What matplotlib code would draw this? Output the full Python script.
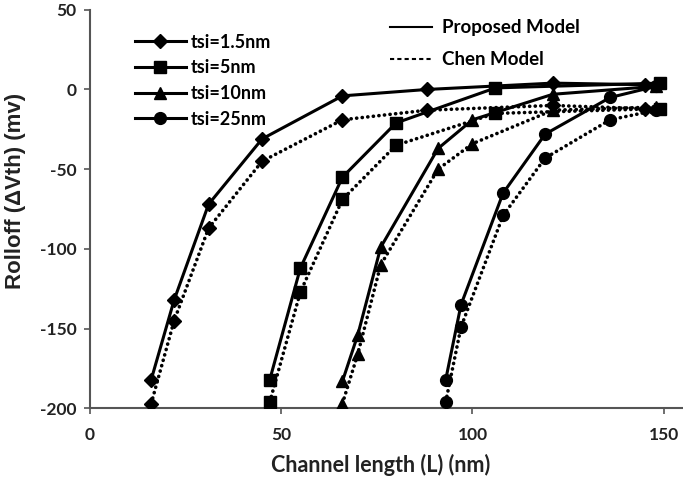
import matplotlib
matplotlib.use("Agg")
import matplotlib.pyplot as plt
from matplotlib.lines import Line2D

plt.rcParams['font.family'] = ['Lato', 'DejaVu Sans']
plt.rcParams['axes.unicode_minus'] = False

# Data
x_15 = [16, 22, 31, 45, 66, 88, 121, 145]
prop_15 = [-182, -132, -72, -31, -4, 0, 4, 3]
chen_15 = [-197, -145, -87, -45, -19, -13, -10, -12]

x_5 = [47, 55, 66, 80, 106, 149]
prop_5 = [-182, -112, -55, -21, 1, 4]
chen_5 = [-196, -127, -69, -35, -15, -12]

x_10 = [66, 70, 76, 91, 100, 121, 148]
prop_10 = [-183, -154, -99, -37, -19, -3, 2]
chen_10 = [-197, -166, -110, -50, -34, -13, -11]

x_25 = [93, 97, 108, 119, 136, 148]
prop_25 = [-182, -135, -65, -28, -5, 2]
chen_25 = [-196, -149, -79, -43, -19, -13]

labels = ["tsi=1.5nm", "tsi=5nm", "tsi=10nm", "tsi=25nm"]
series = [
    (labels[0], "D", 7, x_15, prop_15, chen_15),
    (labels[1], "s", 8, x_5, prop_5, chen_5),
    (labels[2], "^", 8, x_10, prop_10, chen_10),
    (labels[3], "o", 8.5, x_25, prop_25, chen_25),
]

x_ticks = [0, 50, 100, 150]
y_ticks = [-200, -150, -100, -50, 0, 50]

fig = plt.figure(figsize=(6.83, 4.87), dpi=100)
ax = fig.add_axes([0.1318, 0.1616, 0.868, 0.8183])

col = "black"
handles = []
for label, mk, ms, xs, ps, cs in series:
    h, = ax.plot(xs, ps, color=col, lw=2.2, marker=mk, markersize=ms, label=label, zorder=3)
    ax.plot(xs, cs, color=col, lw=2.6, linestyle=(0, (0.05, 1.5)), dash_capstyle='round',
            marker=mk, markersize=ms, zorder=3)
    handles.append(h)

ax.set_xlim(0, 155)
ax.set_ylim(-200, 50)
ax.set_xticks(x_ticks)
ax.set_yticks(y_ticks)
ax.spines['top'].set_visible(False)
ax.spines['right'].set_visible(False)
for s in ['left', 'bottom']:
    ax.spines[s].set_color('#555555')
    ax.spines[s].set_linewidth(1.5)
ax.tick_params(direction='out', length=4.5, width=1.2, color='#555555', labelsize=12.5)
ax.tick_params(axis='y', pad=5)
ax.tick_params(axis='x', pad=9)
for t in ax.get_xticklabels() + ax.get_yticklabels():
    t.set_fontweight('bold')
    t.set_color('#222222')

ax.set_xlabel("Channel length (L) (nm)", fontsize=15.5, fontweight='bold', color='#222222', labelpad=9)
ax.xaxis.set_label_coords(0.49, -0.115)
ax.set_ylabel("Rolloff (\u0394Vth) (mv)", fontsize=16, fontweight='bold', color='#222222',
              family=['Liberation Sans', 'DejaVu Sans'])
ax.yaxis.set_label_coords(-0.126, 0.545)
ax.yaxis.label.set_horizontalalignment('center')
ax.yaxis.label.set_verticalalignment('center')
ax.yaxis.label.set_rotation_mode('anchor')

leg1 = ax.legend(handles=handles, loc='upper left', bbox_to_anchor=(0.076, 0.94), frameon=False,
                 handlelength=2.8, handletextpad=0.3, labelspacing=0.48,
                 borderpad=0, borderaxespad=0,
                 prop={'weight': 'bold', 'size': 13})
ax.add_artist(leg1)

h2 = [Line2D([], [], color=col, lw=1.5),
      Line2D([], [], color=col, lw=1.5, linestyle=(0, (2, 1.5)))]
leg2 = ax.legend(h2, ["Proposed Model", "Chen Model"], loc='upper left',
                 bbox_to_anchor=(0.506, 0.976), frameon=False, handlelength=2.24,
                 handletextpad=0.53, labelspacing=0.8, borderpad=0, borderaxespad=0,
                 prop={'weight': 'bold', 'size': 13.5})

fig.savefig("out.png", dpi=100)
